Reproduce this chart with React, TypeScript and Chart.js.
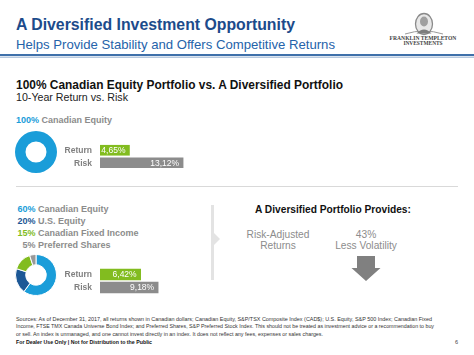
import React, { useEffect, useRef } from "react";
import { Chart, registerables } from "chart.js";

Chart.register(...registerables);
Chart.defaults.font.family = '"Liberation Sans", Arial, sans-serif';

// ---------- data ----------
const barCategories = ["Return", "Risk"];
const equityOnlyValues = [4.65, 13.12];
const diversifiedValues = [6.42, 9.18];
const equityOnlyLabels = ["Canadian Equity"];
const equityOnlyAllocation = [100];
const allocationLabels = ["Canadian Equity", "U.S. Equity", "Canadian Fixed Income", "Preferred Shares"];
const diversifiedAllocation = [60, 20, 15, 5];
const volatilityReduction = [43];

// ---------- styles ----------
const FONT = '"Liberation Sans", Arial, sans-serif';
const CYAN = "#1a9dd9";
const NAVY = "#1d5896";
const GREEN = "#82bc1f";
const GRAY = "#8c8c8c";
const allocationColors = [CYAN, NAVY, GREEN, "#999999"];
const labelGray = "#808080";

const fmt = (v: number) => v.toFixed(2).replace(".", ",") + "%";

function Donut({ labels, values, colors, left, top, size, border }: any) {
  const ref = useRef<HTMLCanvasElement | null>(null);
  useEffect(() => {
    const chart = new Chart(ref.current as HTMLCanvasElement, {
      type: "doughnut",
      data: {
        labels,
        datasets: [
          {
            data: values,
            backgroundColor: colors,
            borderColor: "#ffffff",
            borderWidth: border,
          },
        ],
      },
      options: {
        responsive: false,
        maintainAspectRatio: false,
        animation: false,
        events: [],
        cutout: "50%",
        layout: { padding: 0 },
        plugins: { legend: { display: false }, tooltip: { enabled: false } },
      },
    });
    return () => chart.destroy();
  }, []);
  return (
    <canvas
      ref={ref}
      width={size}
      height={size}
      style={{ position: "absolute", left, top, width: size, height: size }}
    />
  );
}

// draws the category names left of the bars and the values inside the bars
const barLabelPlugin = {
  id: "barLabels",
  afterDatasetsDraw(chart: any) {
    const ctx = chart.ctx;
    const meta = chart.getDatasetMeta(0);
    const data = chart.data.datasets[0].data as number[];
    const yScale = chart.scales.y;
    const left = chart.chartArea.left;
    ctx.save();
    ctx.textBaseline = "middle";
    meta.data.forEach((el: any, i: number) => {
      ctx.textAlign = "right";
      ctx.fillStyle = labelGray;
      ctx.font = `bold 8.5px ${FONT}`;
      ctx.fillText(String(yScale.getLabelForValue(i)), left - 8, el.y + 0.5);
      ctx.fillStyle = "#ffffff";
      ctx.font = `8.5px ${FONT}`;
      ctx.fillText(fmt(data[i]), el.x - 4, el.y + 0.5);
    });
    ctx.restore();
  },
};

function Bars({ values, left, top, height, thickness }: any) {
  const ref = useRef<HTMLCanvasElement | null>(null);
  const width = 150;
  useEffect(() => {
    const chart = new Chart(ref.current as HTMLCanvasElement, {
      type: "bar",
      data: {
        labels: barCategories,
        datasets: [
          {
            data: values,
            backgroundColor: [GREEN, GRAY],
            barThickness: thickness,
          },
        ],
      },
      options: {
        indexAxis: "y",
        responsive: false,
        maintainAspectRatio: false,
        animation: false,
        events: [],
        layout: { padding: 0 },
        plugins: { legend: { display: false }, tooltip: { enabled: false } },
        scales: {
          x: { display: false, min: 0, max: 15 },
          y: {
            grid: { display: false, drawTicks: false },
            border: { display: false },
            ticks: { display: false },
            afterFit: (scale: any) => {
              scale.width = 55;
            },
          },
        },
      },
      plugins: [barLabelPlugin],
    });
    return () => chart.destroy();
  }, []);
  return (
    <canvas
      ref={ref}
      width={width}
      height={height}
      style={{ position: "absolute", left, top, width, height }}
    />
  );
}

const legendColors = [CYAN, NAVY, GREEN, GRAY];

export default function App() {
  useEffect(() => {
    document.body.style.margin = "0";
  }, []);
  const legendBaselines = [212.3, 224, 235.8, 247.6];
  const fit = "spacingAndGlyphs";
  return (
    <div
      style={{
        position: "fixed",
        left: 0,
        top: 0,
        width: 474,
        height: 355,
        background: "#ffffff",
        overflow: "hidden",
        fontFamily: FONT,
      }}
    >
      <svg width={474} height={355} style={{ position: "absolute", left: 0, top: 0 }} fontFamily={FONT}>
        {/* header */}
        <text x={16} y={29.5} fontSize={15.7} fontWeight="bold" fill="#1c4b8b" textLength={279} lengthAdjust={fit}>
          A Diversified Investment Opportunity
        </text>
        <text x={16} y={49} fontSize={13} fill="#2563aa" textLength={319} lengthAdjust={fit}>
          Helps Provide Stability and Offers Competitive Returns
        </text>
        <rect x={0} y={54} width={474} height={2} fill="#3f70aa" />
        <rect x={0} y={56.6} width={474} height={1.2} fill="#a5bcd8" />

        {/* logo */}
        <g>
          <path d="M405 34 Q424 28 443 34" stroke="#9a9a9a" strokeWidth={1} fill="none" />
          <ellipse cx={424} cy={24} rx={8.5} ry={10.5} fill="#e8e8e8" stroke="#8a8a8a" strokeWidth={1.3} />
          <ellipse cx={424} cy={21.5} rx={4} ry={5} fill="#a0a0a0" />
          <path d="M416.5 33.5 Q424 25.5 431.5 33.5 Z" fill="#7d7d7d" />
          <text x={423} y={39.5} fontSize={5.6} fontWeight="bold" fill="#444" textAnchor="middle" fontFamily='"Liberation Serif", serif'>
            FRANKLIN TEMPLETON
          </text>
          <text x={423} y={44.5} fontSize={5.4} fontWeight="bold" fill="#444" textAnchor="middle" fontFamily='"Liberation Serif", serif'>
            INVESTMENTS
          </text>
        </g>

        {/* section heading */}
        <text x={16} y={88.5} fontSize={12.2} fontWeight="bold" fill="#111" textLength={327} lengthAdjust={fit}>
          100% Canadian Equity Portfolio vs. A Diversified Portfolio
        </text>
        <text x={16} y={101} fontSize={10.5} fill="#222" textLength={112} lengthAdjust={fit}>
          10-Year Return vs. Risk
        </text>

        {/* first portfolio label */}
        <text x={16} y={122.5} fontSize={9} fontWeight="bold">
          <tspan fill={CYAN}>{equityOnlyAllocation[0]}%</tspan>
          <tspan fill={GRAY}> {equityOnlyLabels[0]}</tspan>
        </text>

        <line x1={16} y1={186.5} x2={458} y2={186.5} stroke="#d9d9d9" strokeWidth={1} />

        {/* diversified legend */}
        {allocationLabels.map((lab, i) => (
          <g key={lab}>
            <text x={35.5} y={legendBaselines[i]} fontSize={9} fontWeight="bold" fill={legendColors[i]} textAnchor="end">
              {diversifiedAllocation[i]}%
            </text>
            <text x={38} y={legendBaselines[i]} fontSize={9} fontWeight="bold" fill={GRAY}>
              {lab}
            </text>
          </g>
        ))}

        {/* separator with pointer */}
        <rect x={211} y={205} width={3} height={75} fill="#e3e3e3" />
        <polygon points="214,233 220,239 214,245" fill="#e3e3e3" />

        {/* right panel */}
        <text x={333} y={212.5} fontSize={10.2} fontWeight="bold" fill="#111" textAnchor="middle">
          A Diversified Portfolio Provides:
        </text>
        <text x={278} y={237.5} fontSize={10.2} fill={GRAY} textAnchor="middle">
          Risk-Adjusted
        </text>
        <text x={278} y={248.5} fontSize={10.2} fill={GRAY} textAnchor="middle">
          Returns
        </text>
        <text x={366} y={237.5} fontSize={10.2} fill={GRAY} textAnchor="middle">
          {volatilityReduction[0]}%
        </text>
        <text x={366} y={248.5} fontSize={10.2} fill={GRAY} textAnchor="middle">
          Less Volatility
        </text>
        <polygon points="357,256 375,256 375,268 380.5,268 366,281 351.5,268 357,268" fill="#808080" />

        {/* footer */}
        <g fontSize={5.6} fill="#333">
          <text x={16} y={320.5} textLength={416} lengthAdjust={fit}>
            Sources: As of December 31, 2017, all returns shown in Canadian dollars; Canadian Equity, S&amp;P/TSX Composite Index (CAD$); U.S. Equity, S&amp;P 500 Index; Canadian Fixed
          </text>
          <text x={16} y={328.3} textLength={418} lengthAdjust={fit}>
            Income, FTSE TMX Canada Universe Bond Index; and Preferred Shares, S&amp;P Preferred Stock Index. This should not be treated as investment advice or a recommendation to buy
          </text>
          <text x={16} y={336} textLength={307} lengthAdjust={fit}>
            or sell. An index is unmanaged, and one cannot invest directly in an index. It does not reflect any fees, expenses or sales charges.
          </text>
          <text x={16} y={343.7} fontWeight="bold" fill="#111" textLength={136} lengthAdjust={fit}>
            For Dealer Use Only | Not for Distribution to the Public
          </text>
          <text x={455} y={343.7} fill="#444">
            6
          </text>
        </g>
      </svg>

      <Donut labels={equityOnlyLabels} values={equityOnlyAllocation} colors={[CYAN]} left={15} top={131} size={42} border={0} />
      <Donut labels={allocationLabels} values={diversifiedAllocation} colors={allocationColors} left={15} top={254} size={42} border={1} />
      <Bars values={equityOnlyValues} left={45} top={144} height={25} thickness={10} />
      <Bars values={diversifiedValues} left={45} top={268} height={26} thickness={11} />
    </div>
  );
}
